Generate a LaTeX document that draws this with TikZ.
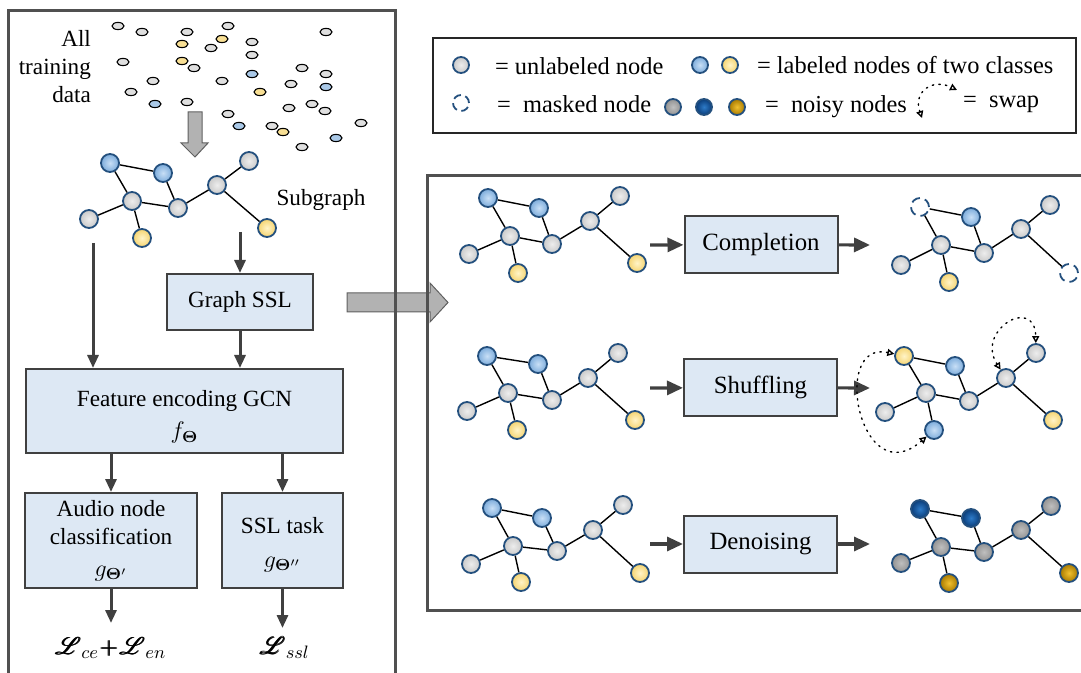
\documentclass[tikz,border=0pt]{standalone}
\usepackage{amsmath}
\usepackage{mathrsfs}
\usepackage[no-math]{fontspec}
\setmainfont{Liberation Serif}
\usetikzlibrary{arrows.meta,shapes.geometric}
\definecolor{nline}{HTML}{24507E}
\definecolor{bluein}{HTML}{C8DFF6}
\definecolor{blueout}{HTML}{7DACDB}
\definecolor{yelin}{HTML}{FFF4C8}
\definecolor{yelout}{HTML}{F5D470}
\definecolor{dbluein}{HTML}{2E7BC8}
\definecolor{dblueout}{HTML}{0A3D7A}
\definecolor{goldin}{HTML}{F0C030}
\definecolor{goldout}{HTML}{A87A00}
\definecolor{boxfill}{HTML}{DDE8F4}
\definecolor{boxline}{HTML}{404040}
\definecolor{panel}{HTML}{505050}
\newcommand\lpfont{\fontsize{11.6}{14}\selectfont}
\newcommand\rpfont{\fontsize{12.4}{15}\selectfont}
\newcommand\kyfont{\fontsize{12.2}{14}\selectfont}
\begin{document}
\begin{tikzpicture}
[x=.5pt,y=-.5pt,
gn/.style={circle,draw=nline,line width=.9pt,inner sep=0pt,minimum size=9pt,inner color=gray!14,outer color=gray!42},
bn/.style={gn,inner color=bluein,outer color=blueout},
yn/.style={gn,inner color=yelin,outer color=yelout},
mn/.style={circle,draw=nline,line width=.9pt,inner sep=0pt,minimum size=9pt,dash pattern=on 4.5pt off 2.6pt,fill=white},
dg/.style={gn,inner color=gray!50,outer color=gray!85},
db/.style={gn,inner color=dbluein,outer color=dblueout},
dy/.style={gn,inner color=goldin,outer color=goldout},
gs/.style={ellipse,draw,line width=.55pt,inner sep=0pt,minimum width=6pt,minimum height=3.6pt,fill=gray!25},
ys/.style={gs,fill=yelout!75},
bs/.style={gs,fill=blueout!65},
bx/.style={draw=boxline,line width=1pt,fill=boxfill,align=center,inner sep=2pt},
ar/.style={-{Triangle[length=6.5pt,width=5.5pt]},line width=1.5pt,draw=boxline},
ra/.style={-{Triangle[length=8pt,width=7pt]},line width=1.6pt,draw=boxline},
sw/.style={{Triangle[open,length=3.5pt,width=3.5pt]}-{Triangle[open,length=3.5pt,width=3.5pt]},line width=.7pt,dash pattern=on .7pt off 2.6pt,line cap=round},
ed/.style={line width=.7pt},
frm/.style={line width=1.5pt,draw=panel}]
\useasboundingbox(0,0)rectangle(1081,673);
% fat arrows
\draw[fill=gray!60,draw=gray!75!black,line width=.5pt](188,112)--(202,112)--(202,143)--(208,143)--(195,157)--(181,143)--(188,143)--cycle;
\draw[fill=gray!60,draw=gray!75!black,line width=.5pt](347,293)--(430,293)--(430,283)--(448,302.5)--(430,322)--(430,312)--(347,312)--cycle;
% panels
\draw[frm](8,673)--(8,11)--(395,11)--(395,673);
\draw[frm](1081,176)--(427,176)--(427,610)--(1081,610);
\draw[line width=1pt,draw=black!85](433,38)rectangle(1076,133);
% all training data
\node(td) at (98,67)[anchor=east,align=right,font=\lpfont]{All\\training\\data};
\node(s1) at (118,26)[gs]{};\node(s2) at (142,32)[gs]{};\node(s3) at (187,32)[gs]{};\node(s4) at (228,26)[gs]{};
\node(s5) at (326,32)[gs]{};\node(s6) at (182,44)[ys]{};\node(s7) at (222,39)[ys]{};\node(s8) at (211,48)[gs]{};
\node(s9) at (252,42)[gs]{};\node(s10) at (252,55)[gs]{};\node(s11) at (123,62)[gs]{};\node(s12) at (182,61)[ys]{};
\node(s13) at (194,68)[gs]{};\node(s14) at (302,68)[gs]{};\node(s15) at (326,74)[gs]{};\node(s16) at (252,74)[bs]{};
\node(s17) at (153,81)[gs]{};\node(s18) at (222,81)[gs]{};\node(s19) at (291,84)[gs]{};\node(s20) at (326,87)[bs]{};
\node(s21) at (131,92)[gs]{};\node(s22) at (260,92)[ys]{};\node(s23) at (155,104)[bs]{};\node(s24) at (187,102)[gs]{};
\node(s25) at (228,114)[gs]{};\node(s26) at (289,108)[gs]{};\node(s27) at (312,104)[gs]{};\node(s28) at (325,111)[gs]{};
\node(s29) at (361,123)[gs]{};\node(s30) at (239,126)[bs]{};\node(s31) at (272,126)[gs]{};\node(s32) at (283,132)[ys]{};
\node(s33) at (336,138)[bs]{};\node(s34) at (302,147)[gs]{};
% subgraph
\node(a1) at (110,163)[bn]{};\node(a2) at (163,173)[bn]{};\node(a3) at (132,201)[gn]{};\node(a4) at (178,208)[gn]{};
\node(a5) at (217,185)[gn]{};\node(a6) at (249,161)[gn]{};\node(a7) at (89,219)[gn]{};\node(a8) at (142,238)[yn]{};
\node(a9) at (267,228)[yn]{};
\draw[ed](a1)--(a2) (a1)--(a3) (a2)--(a4) (a3)--(a4) (a3)--(a7) (a3)--(a8) (a4)--(a5) (a5)--(a6) (a5)--(a9);
\node(sg) at (321,200)[font=\lpfont]{Subgraph};
% left pipeline
\node(gssl) at (240,302)[bx,minimum width=73pt,minimum height=28pt,font=\lpfont]{Graph SSL};
\node(feat) at (184.5,411)[bx,minimum width=158.5pt,minimum height=42pt,font=\lpfont]{\rule{0pt}{14pt}Feature encoding GCN\\[2pt]$f_{\mathbf{\Theta}}$};
\node(aud) at (111,540.5)[bx,minimum width=86pt,minimum height=47.5pt,font=\lpfont]{Audio node\\classification\\[2pt]$g_{\mathbf{\Theta}'}$};
\node(task) at (282.5,540.5)[bx,minimum width=60.5pt,minimum height=47.5pt,font=\lpfont]{\rule{0pt}{12pt}SSL task\\[3pt]$g_{\mathbf{\Theta}''}$};
\coordinate(p1) at (93,243);\coordinate(p2) at (240,232);\coordinate(l1) at (111,623);\coordinate(l2) at (282.5,628);
\draw[ar](p1)--(p1|-feat.north);\draw[ar](p2)--(gssl);\draw[ar](gssl)--(feat.north-|gssl);
\draw[ar](feat.south-|aud)--(aud);\draw[ar](feat.south-|task)--(task);
\draw[ar](aud)--(l1);\draw[ar](task)--(l2);
\node(lce) at (111,648)[font=\fontsize{13}{15}\selectfont]{$\pmb{\mathscr{L}}_{ce}\!\pmb{+}\!\pmb{\mathscr{L}}_{en}$};
\node(lssl) at (285,648)[font=\fontsize{13}{15}\selectfont]{$\pmb{\mathscr{L}}_{ssl}$};
% legend
\node(k1) at (461,65)[gn,minimum size=8pt]{};\node(t1) at (488,66)[anchor=west,font=\kyfont]{= unlabeled node};
\node(k2) at (700,65)[bn,minimum size=8pt]{};\node(k3) at (730,65)[yn,minimum size=8pt]{};
\node(t2) at (750,65)[anchor=west,font=\kyfont]{= labeled nodes of two classes};
\node(k4) at (461,103)[mn,minimum size=8pt,dash pattern=on 4pt off 2.3pt]{};
\node(t3) at (490,104)[anchor=west,font=\kyfont]{=\enspace masked node};
\node(k5) at (673,107)[dg,minimum size=8pt]{};\node(k6) at (704,107)[db,minimum size=8pt]{};\node(k7) at (737,107)[dy,minimum size=8pt]{};
\node(t4) at (758,107)[anchor=west,font=\kyfont]{=\enspace noisy nodes};
\coordinate(w1) at (922,118);\coordinate(w2) at (957,90);
\draw[sw](w1) .. controls (913,92) and (932,78) .. (w2);
\node(t5) at (956,104)[anchor=west,font=\kyfont]{=\enspace swap};
% completion
\node(b1) at (488,198)[bn]{};\node(b2) at (539,208)[bn]{};\node(b3) at (510,236)[gn]{};\node(b4) at (552,244)[gn]{};
\node(b5) at (590,221)[gn]{};\node(b6) at (620,196)[gn]{};\node(b7) at (469,254)[gn]{};\node(b8) at (518,273)[yn]{};
\node(b9) at (637,263)[yn]{};
\draw[ed](b1)--(b2) (b1)--(b3) (b2)--(b4) (b3)--(b4) (b3)--(b7) (b3)--(b8) (b4)--(b5) (b5)--(b6) (b5)--(b9);
\node(comp) at (761,244.5)[bx,minimum width=76.5pt,minimum height=28.5pt,font=\rpfont]{Completion};
\coordinate(i1) at (650,245);\coordinate(o1) at (870,245);
\draw[ra](i1)--(comp);\draw[ra](comp)--(o1);
\node(c1) at (920,207)[mn]{};\node(c2) at (971,217)[bn]{};\node(c3) at (941,245)[gn]{};\node(c4) at (984,253)[gn]{};
\node(c5) at (1021,229)[gn]{};\node(c6) at (1050,205)[gn]{};\node(c7) at (901,265)[gn]{};\node(c8) at (949,282)[yn]{};
\node(c9) at (1069,273)[mn]{};
\draw[ed](c1)--(c2) (c1)--(c3) (c2)--(c4) (c3)--(c4) (c3)--(c7) (c3)--(c8) (c4)--(c5) (c5)--(c6) (c5)--(c9);
% shuffling
\node(d1) at (487,356)[bn]{};\node(d2) at (538,364)[bn]{};\node(d3) at (508,393)[gn]{};\node(d4) at (552,400)[gn]{};
\node(d5) at (588,378)[gn]{};\node(d6) at (618,353)[gn]{};\node(d7) at (467,411)[gn]{};\node(d8) at (517,430)[yn]{};
\node(d9) at (635,420)[yn]{};
\draw[ed](d1)--(d2) (d1)--(d3) (d2)--(d4) (d3)--(d4) (d3)--(d7) (d3)--(d8) (d4)--(d5) (d5)--(d6) (d5)--(d9);
\node(shuf) at (760.5,387.5)[bx,minimum width=76.5pt,minimum height=28.5pt,font=\rpfont]{Shuffling};
\coordinate(i2) at (650,388);\coordinate(o2) at (870,388);
\draw[ra](i2)--(shuf);\draw[ra](shuf)--(o2);
\node(e1) at (904,356)[yn]{};\node(e2) at (955,366)[bn]{};\node(e3) at (926,393)[gn]{};\node(e4) at (969,401)[gn]{};
\node(e5) at (1006,378)[gn]{};\node(e6) at (1036,353)[gn]{};\node(e7) at (885,412)[gn]{};\node(e8) at (934,430)[bn]{};
\node(e9) at (1053,420)[yn]{};
\draw[ed](e1)--(e2) (e1)--(e3) (e2)--(e4) (e3)--(e4) (e3)--(e7) (e3)--(e8) (e4)--(e5) (e5)--(e6) (e5)--(e9);
\draw[sw](e1) .. controls (830,340) and (860,495) .. (e8);
\draw[sw](e5) .. controls (975,330) and (1035,295) .. (e6);
% denoising
\node(f1) at (492,508)[bn]{};\node(f2) at (542,518)[bn]{};\node(f3) at (513,546)[gn]{};\node(f4) at (557,551)[gn]{};
\node(f5) at (593,530)[gn]{};\node(f6) at (623,505)[gn]{};\node(f7) at (471,564)[gn]{};\node(f8) at (521,582)[yn]{};
\node(f9) at (640,573)[yn]{};
\draw[ed](f1)--(f2) (f1)--(f3) (f2)--(f4) (f3)--(f4) (f3)--(f7) (f3)--(f8) (f4)--(f5) (f5)--(f6) (f5)--(f9);
\node(deno) at (760.5,544)[bx,minimum width=76.5pt,minimum height=28.5pt,font=\rpfont]{Denoising};
\coordinate(i3) at (650,544);\coordinate(o3) at (870,544);
\draw[ra](i3)--(deno);\draw[ra](deno)--(o3);
\node(g1) at (920,509)[db]{};\node(g2) at (971,518)[db]{};\node(g3) at (941,547)[dg]{};\node(g4) at (984,552)[dg]{};
\node(g5) at (1021,530)[dg]{};\node(g6) at (1051,506)[dg]{};\node(g7) at (901,563)[dg]{};\node(g8) at (949,583)[dy]{};
\node(g9) at (1069,573)[dy]{};
\draw[ed](g1)--(g2) (g1)--(g3) (g2)--(g4) (g3)--(g4) (g3)--(g7) (g3)--(g8) (g4)--(g5) (g5)--(g6) (g5)--(g9);
\end{tikzpicture}
\end{document}
